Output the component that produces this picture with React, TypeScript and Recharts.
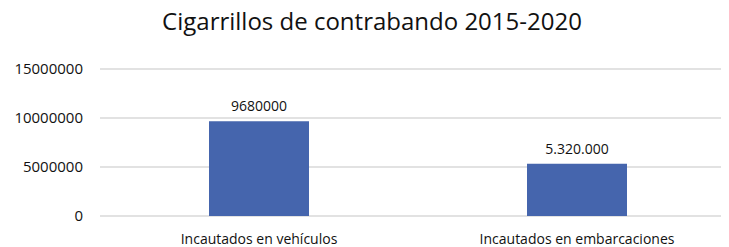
import React from 'react';
import { BarChart, Bar, XAxis, YAxis, CartesianGrid, LabelList } from 'recharts';

// Cigarrillos incautados 2015-2020
const categories = ['Incautados en vehículos', 'Incautados en embarcaciones'];
const values = [9680000, 5320000];
const valueLabels = ['9680000', '5.320.000'];
const yTicks = [0, 5000000, 10000000, 15000000];

const data = categories.map((name, i) => ({ name, value: values[i], label: valueLabels[i] }));

const FONT = '"Open Sans", sans-serif';

export default function App() {
  return (
    <div style={{ position: 'relative', marginLeft: -8, marginTop: -8, width: 729, height: 247, overflow: 'hidden', background: '#fff' }}>
      <div
        style={{
          position: 'absolute',
          top: 4,
          left: 0,
          width: 744,
          textAlign: 'center',
          fontFamily: FONT,
          fontSize: 24,
          color: '#111',
        }}
      >
        Cigarrillos de contrabando 2015-2020
      </div>
      <BarChart width={740} height={247} data={data} margin={{ top: 69, right: 4, left: 0, bottom: 0 }}>
        <CartesianGrid vertical={false} stroke="#d9d9d9" strokeWidth={1.5} />
        <XAxis
          dataKey="name"
          axisLine={false}
          tickLine={false}
          tickSize={0}
          tickMargin={18}
          height={31}
          interval={0}
          tick={{ fill: '#111', fontSize: 14, fontFamily: FONT }}
        />
        <YAxis
          domain={[0, 15000000]}
          ticks={yTicks}
          axisLine={false}
          tickLine={false}
          tickSize={0}
          tickMargin={17}
          width={100}
          tick={{ fill: '#111', fontSize: 15, fontFamily: FONT }}
        />
        <Bar dataKey="value" fill="#4565ad" barSize={100} isAnimationActive={false}>
          <LabelList dataKey="label" position="top" offset={10} fill="#111" fontSize={14} fontFamily={FONT} />
        </Bar>
      </BarChart>
    </div>
  );
}
